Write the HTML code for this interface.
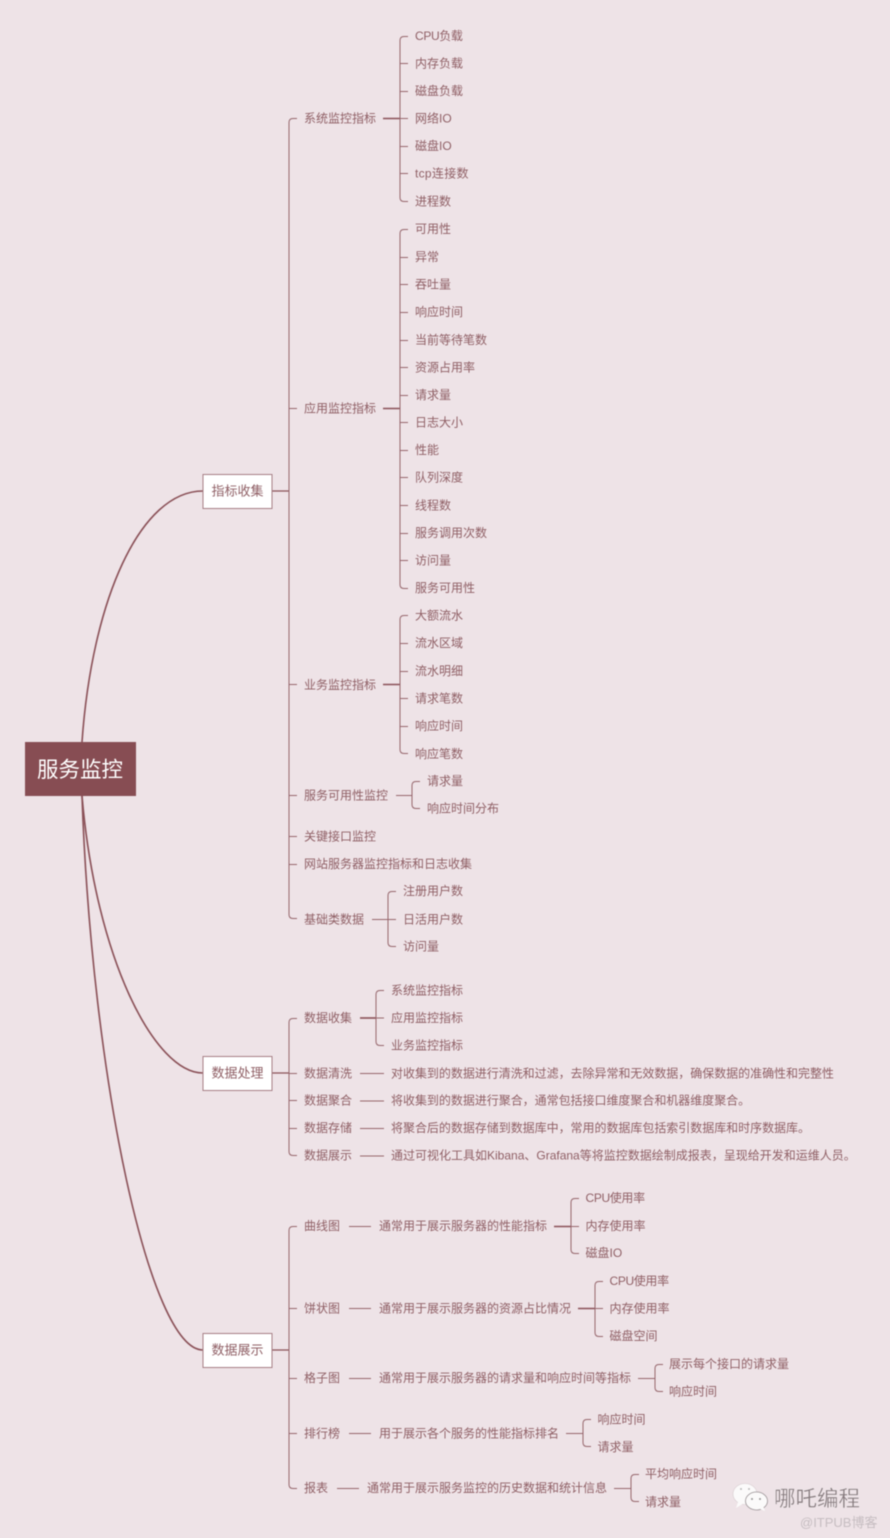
<!DOCTYPE html>
<html lang="zh-CN">
<head>
<meta charset="utf-8">
<title>服务监控</title>
<style>
html,body{margin:0;padding:0;background:#eee3e7;}
svg{display:block;filter:blur(.45px);}
text{font-family:"Liberation Sans","Noto Sans CJK SC",sans-serif;font-size:12px;fill:#8f5f65;}
.t{fill:none;stroke:#96666c;stroke-width:1;}
.h{fill:none;stroke:#8a5057;stroke-width:1.6;}
.m{fill:none;stroke:#96666c;stroke-width:1;}
.c{fill:none;stroke:#8a5057;stroke-width:1.6;}
.b{fill:#fff;stroke:#a67f85;stroke-width:1;}
.cpu{letter-spacing:-.35px;}
</style>
</head>
<body>
<svg xmlns="http://www.w3.org/2000/svg" width="890" height="1538" viewBox="0 0 890 1538">
<rect width="890" height="1538" fill="#eee3e7"/>

<!-- root curves -->
<path class="c" d="M82 742C92 600 140 491 203 491"/>
<path class="c" d="M82 796C96 960 155 1073 203 1073"/>
<path class="c" d="M82 796C92 1080 150 1350 203 1350"/>
<rect x="25" y="742" width="111" height="54" fill="#874d53"/>
<text x="80" y="777" text-anchor="middle" style="font-size:21.500px;fill:#fff">服务监控</text>

<!-- level 1 boxes -->
<path class="h" d="M272 491H289M272 1073H289M272 1350H289" style="stroke-width:1.2"/>
<rect class="b" x="203" y="474.500" width="69" height="34"/>
<rect class="b" x="203" y="1056.500" width="69" height="34"/>
<rect class="b" x="203" y="1333.500" width="69" height="34"/>
<text x="237.500" y="495.500" text-anchor="middle" style="font-size:13px">指标收集</text>
<text x="237.500" y="1077.500" text-anchor="middle" style="font-size:13px">数据处理</text>
<text x="237.500" y="1354.500" text-anchor="middle" style="font-size:13px">数据展示</text>

<!-- trunk 1 -->
<path class="t" d="M297 118.500H293Q289 118.500 289 122.500V914.500Q289 918.500 293 918.500H297M289 408.500H297M289 684.500H297M289 795.500H297M289 836.500H297M289 864.500H297"/>
<text x="304" y="122.500">系统监控指标</text>
<text x="304" y="412.500">应用监控指标</text>
<text x="304" y="689">业务监控指标</text>
<text x="304" y="799.500">服务可用性监控</text>
<text x="304" y="840.500">关键接口监控</text>
<text x="304" y="868">网站服务器监控指标和日志收集</text>
<text x="304" y="923.500">基础类数据</text>

<!-- 系统 -->
<path class="h" d="M383 118.500H400"/>
<path class="t" d="M408 36.500H404Q400 36.500 400 40.500V197.500Q400 201.500 404 201.500H408M400 63.500H408M400 91.500H408M400 118.500H408M400 146.500H408M400 173.500H408"/>
<text class="cpu" x="415" y="40">CPU负载</text>
<text x="415" y="67.500">内存负载</text>
<text x="415" y="95">磁盘负载</text>
<text x="415" y="122.500">网络IO</text>
<text x="415" y="150">磁盘IO</text>
<text x="415" y="177.500" style="letter-spacing:.3px">tcp连接数</text>
<text x="415" y="205.500">进程数</text>

<!-- 应用 -->
<path class="h" d="M383 408.500H400"/>
<path class="t" d="M408 229.500H404Q400 229.500 400 233.500V584.500Q400 588.500 404 588.500H408M400 257.500H408M400 284.500H408M400 312.500H408M400 340.500H408M400 367.500H408M400 395.500H408M400 422.500H408M400 450.500H408M400 477.500H408M400 505.500H408M400 533.500H408M400 560.500H408"/>
<text x="415" y="233">可用性</text>
<text x="415" y="261">异常</text>
<text x="415" y="288.500">吞吐量</text>
<text x="415" y="316">响应时间</text>
<text x="415" y="344">当前等待笔数</text>
<text x="415" y="371.500">资源占用率</text>
<text x="415" y="399">请求量</text>
<text x="415" y="426.500">日志大小</text>
<text x="415" y="454">性能</text>
<text x="415" y="481.500">队列深度</text>
<text x="415" y="509.500">线程数</text>
<text x="415" y="537">服务调用次数</text>
<text x="415" y="564.500">访问量</text>
<text x="415" y="592">服务可用性</text>

<!-- 业务 -->
<path class="h" d="M383 684.500H400"/>
<path class="t" d="M408 615.500H404Q400 615.500 400 619.500V749.500Q400 753.500 404 753.500H408M400 643.500H408M400 671.500H408M400 698.500H408M400 726.500H408"/>
<text x="415" y="619.500">大额流水</text>
<text x="415" y="647">流水区域</text>
<text x="415" y="675">流水明细</text>
<text x="415" y="702.500">请求笔数</text>
<text x="415" y="730">响应时间</text>
<text x="415" y="758">响应笔数</text>

<!-- 服务可用性 -->
<path class="m" d="M396 795.500H412"/>
<path class="t" d="M420 781.500H416Q412 781.500 412 785.500V804.500Q412 808.500 416 808.500H420"/>
<text x="427" y="785">请求量</text>
<text x="427" y="812.500">响应时间分布</text>

<!-- 基础类 -->
<path class="m" d="M372 919.500H388"/>
<path class="t" d="M396 891.500H392Q388 891.500 388 895.500V942.500Q388 946.500 392 946.500H396M388 919.500H396"/>
<text x="403" y="895">注册用户数</text>
<text x="403" y="923.500">日活用户数</text>
<text x="403" y="950.500">访问量</text>

<!-- trunk 2 -->
<path class="t" d="M297 1018.500H293Q289 1018.500 289 1022.500V1151.500Q289 1155.500 293 1155.500H297M289 1073.500H297M289 1100.500H297M289 1128.500H297"/>
<text x="304" y="1022">数据收集</text>
<text x="304" y="1077.500">数据清洗</text>
<text x="304" y="1104.500">数据聚合</text>
<text x="304" y="1132">数据存储</text>
<text x="304" y="1159.500">数据展示</text>

<path class="h" d="M360 1018H376"/>
<path class="t" d="M384 990.500H380Q376 990.500 376 994.500V1041.500Q376 1045.500 380 1045.500H384M376 1018H384"/>
<text x="391" y="994.500">系统监控指标</text>
<text x="391" y="1022">应用监控指标</text>
<text x="391" y="1049.500">业务监控指标</text>
<path class="m" d="M360 1073.500H384M360 1101H384M360 1128.500H384M360 1156H384"/>
<text x="391" y="1077.500" style="letter-spacing:-.03px">对收集到的数据进行清洗和过滤，去除异常和无效数据，确保数据的准确性和完整性</text>
<text x="391" y="1104.500" style="letter-spacing:-.03px">将收集到的数据进行聚合，通常包括接口维度聚合和机器维度聚合。</text>
<text x="391" y="1132" style="letter-spacing:-.03px">将聚合后的数据存储到数据库中，常用的数据库包括索引数据库和时序数据库。</text>
<text x="391" y="1159.500">通过可视化工具如Kibana、Grafana等将监控数据绘制成报表，呈现给开发和运维人员。</text>

<!-- trunk 3 -->
<path class="t" d="M297 1226.500H293Q289 1226.500 289 1230.500V1484.500Q289 1488.500 293 1488.500H297M289 1308.500H297M289 1378.500H297M289 1433.500H297"/>
<text x="304" y="1230">曲线图</text>
<text x="304" y="1312.500">饼状图</text>
<text x="304" y="1382">格子图</text>
<text x="304" y="1437.500">排行榜</text>
<text x="304" y="1492">报表</text>

<path class="m" d="M349 1226.500H371M349 1308.500H371M349 1378.500H371M349 1433.500H371M337 1488.500H359"/>
<text x="379" y="1230">通常用于展示服务器的性能指标</text>
<text x="379" y="1312.500">通常用于展示服务器的资源占比情况</text>
<text x="379" y="1382">通常用于展示服务器的请求量和响应时间等指标</text>
<text x="379" y="1437.500">用于展示各个服务的性能指标排名</text>
<text x="367" y="1492">通常用于展示服务监控的历史数据和统计信息</text>

<path class="h" d="M554 1226.500H571"/>
<path class="t" d="M579 1198.500H575Q571 1198.500 571 1202.500V1249.500Q571 1253.500 575 1253.500H579M571 1226.500H579"/>
<text class="cpu" x="585.500" y="1202">CPU使用率</text>
<text x="585.500" y="1230">内存使用率</text>
<text x="585.500" y="1257">磁盘IO</text>

<path class="h" d="M578 1308.500H595"/>
<path class="t" d="M603 1281.500H599Q595 1281.500 595 1285.500V1332.500Q595 1336.500 599 1336.500H603M595 1308.500H603"/>
<text class="cpu" x="609.500" y="1285">CPU使用率</text>
<text x="609.500" y="1312.500">内存使用率</text>
<text x="609.500" y="1340">磁盘空间</text>

<path class="m" d="M638 1378.500H655"/>
<path class="t" d="M663 1364.500H659Q655 1364.500 655 1368.500V1387.500Q655 1391.500 659 1391.500H663"/>
<text x="669" y="1368">展示每个接口的请求量</text>
<text x="669" y="1395.500">响应时间</text>

<path class="m" d="M566 1433.500H583"/>
<path class="t" d="M591 1419.500H587Q583 1419.500 583 1423.500V1442.500Q583 1446.500 587 1446.500H591"/>
<text x="597.500" y="1423.500">响应时间</text>
<text x="597.500" y="1451">请求量</text>

<path class="m" d="M614 1488.500H631"/>
<path class="t" d="M639 1474.500H635Q631 1474.500 631 1478.500V1497.500Q631 1501.500 635 1501.500H639"/>
<text x="645" y="1478">平均响应时间</text>
<text x="645" y="1506">请求量</text>

<!-- watermark -->
<ellipse cx="745" cy="1494" rx="12" ry="10.500" fill="#fbfafa" stroke="#d8cdd0" stroke-width=".6"/>
<path d="M738 1502L736 1508L744 1503Z" fill="#fbfafa"/>
<ellipse cx="756.500" cy="1501" rx="11" ry="9" fill="#fbfafa" stroke="#9c9497" stroke-width=".8"/>
<path d="M760 1509L765 1511L763 1506Z" fill="#fbfafa"/>
<circle cx="741" cy="1489" r="1" fill="#bbb"/><circle cx="749" cy="1489" r="1" fill="#bbb"/>
<circle cx="752" cy="1499" r="1" fill="#999"/><circle cx="760" cy="1499" r="1" fill="#999"/>
<text x="774" y="1506" style="font-size:21.500px;fill:#86797d;stroke:#fff;stroke-width:.2px">哪吒编程</text>
<text x="800" y="1527" style="font-size:13px;fill:#c6bdc1">@ITPUB博客</text>
</svg>
</body>
</html>
